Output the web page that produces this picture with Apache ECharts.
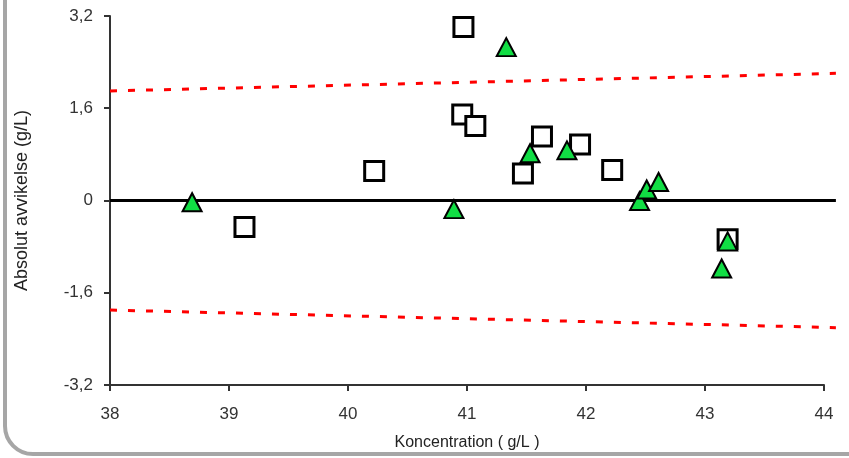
<!DOCTYPE html>
<html>
<head>
<meta charset="utf-8">
<script src="https://cdn.jsdelivr.net/npm/echarts@6/dist/echarts.min.js"></script>
<style>
  html, body { margin: 0; padding: 0; background: #ffffff; }
  #chart { width: 849px; height: 458px; }
</style>
</head>
<body>
<div id="chart"></div>
<script>
// Measured concentrations (g/L) and their absolute deviation (g/L)
const squareConc = [39.13, 40.22, 40.97, 40.96, 41.07, 41.47, 41.63, 41.95, 42.22, 43.19];
const squareDev  = [-0.46, 0.51, 3.01, 1.49, 1.29, 0.47, 1.11, 0.97, 0.53, -0.67];

const triangleConc = [38.69, 40.89, 41.33, 41.53, 41.84, 42.45, 42.51, 42.61, 43.19, 43.14];
const triangleDev  = [-0.03, -0.15, 2.66, 0.82, 0.87, -0.01, 0.19, 0.32, -0.71, -1.18];

// Acceptance limits and zero reference (lines run slightly past the last tick)
const limitConc  = [38, 44.1];
const upperLimit = [1.9, 2.205];
const lowerLimit = [-1.9, -2.205];
const zeroLine   = [0, 0];

// Axis ticks
const xTicks = { min: 38, max: 44, step: 1 };
const yTicks = { min: -3.2, max: 3.2, step: 1.6 };
const lineAxisMax = 44.1;

const pair = (xs, ys) => xs.map((x, i) => [x, ys[i]]);

const chart = echarts.init(document.getElementById('chart'), null, { renderer: 'canvas' });

const FONT = 'Liberation Sans, Arial, sans-serif';
const plotLeft = 110, plotRight = 25, plotTop = 16, plotBottom = 73;
const plotWidth = 849 - plotLeft - plotRight;
// the reference-line grid is wider so the lines reach 44.1 on the same scale
const lineGridRight = 849 - plotLeft - plotWidth * (lineAxisMax - xTicks.min) / (xTicks.max - xTicks.min);

chart.setOption({
  animation: false,
  backgroundColor: '#ffffff',
  grid: [
    { left: plotLeft, right: plotRight, top: plotTop, bottom: plotBottom, containLabel: false },
    { left: plotLeft, right: lineGridRight, top: plotTop, bottom: plotBottom, containLabel: false }
  ],
  graphic: [{
    type: 'rect',
    silent: true,
    z: -1,
    shape: { x: 5, y: -60, width: 920, height: 514, r: 28 },
    style: { fill: 'none', stroke: '#a6a6a6', lineWidth: 4 }
  }],
  xAxis: [{
    type: 'value',
    gridIndex: 0,
    min: xTicks.min, max: xTicks.max, interval: xTicks.step,
    name: 'Koncentration ( g/L )',
    nameLocation: 'middle',
    nameGap: 50,
    nameTextStyle: { fontFamily: FONT, fontSize: 16, color: '#222222' },
    axisLine: { show: true, onZero: false, lineStyle: { color: '#333333', width: 2 } },
    axisTick: { show: true, length: 6, lineStyle: { color: '#333333', width: 2 } },
    axisLabel: { margin: 21, fontFamily: FONT, fontSize: 17, color: '#333333' },
    splitLine: { show: false }
  }, {
    type: 'value',
    gridIndex: 1,
    min: xTicks.min, max: lineAxisMax,
    show: false
  }],
  yAxis: [{
    type: 'value',
    gridIndex: 0,
    min: yTicks.min, max: yTicks.max, interval: yTicks.step,
    name: 'Absolut avvikelse (g/L)',
    nameLocation: 'middle',
    nameGap: 79,
    nameRotate: 90,
    nameTextStyle: { fontFamily: FONT, fontSize: 18, color: '#222222' },
    axisLine: { show: true, onZero: false, lineStyle: { color: '#333333', width: 2 } },
    axisTick: { show: true, length: 6, lineStyle: { color: '#333333', width: 2 } },
    axisLabel: {
      margin: 17, fontFamily: FONT, fontSize: 17, color: '#333333',
      formatter: v => {
        const r = Math.round(v * 10) / 10;
        return r === 0 ? '0' : r.toFixed(1).replace('.', ',');
      }
    },
    splitLine: { show: false }
  }, {
    type: 'value',
    gridIndex: 1,
    min: yTicks.min, max: yTicks.max,
    show: false
  }],
  series: [
    {
      name: 'Nollinje',
      type: 'line',
      xAxisIndex: 1, yAxisIndex: 1,
      data: pair(limitConc, zeroLine),
      symbol: 'none',
      silent: true,
      lineStyle: { color: '#000000', width: 3 },
      z: 2
    },
    {
      name: 'Övre gräns',
      type: 'line',
      xAxisIndex: 1, yAxisIndex: 1,
      data: pair(limitConc, upperLimit),
      symbol: 'none',
      silent: true,
      lineStyle: { color: '#ff0000', width: 3, type: [7, 11] },
      z: 2
    },
    {
      name: 'Nedre gräns',
      type: 'line',
      xAxisIndex: 1, yAxisIndex: 1,
      data: pair(limitConc, lowerLimit),
      symbol: 'none',
      silent: true,
      lineStyle: { color: '#ff0000', width: 3, type: [7, 11] },
      z: 2
    },
    {
      name: 'Kvadrat',
      type: 'scatter',
      data: pair(squareConc, squareDev),
      symbol: 'rect',
      symbolSize: 19,
      itemStyle: { color: '#ffffff', borderColor: '#000000', borderWidth: 3, opacity: 1 },
      z: 3
    },
    {
      name: 'Triangel',
      type: 'scatter',
      data: pair(triangleConc, triangleDev),
      symbol: 'triangle',
      symbolSize: [19, 18],
      itemStyle: { color: '#11dd44', borderColor: '#000000', borderWidth: 2, opacity: 1 },
      z: 4
    }
  ]
});
</script>
</body>
</html>
